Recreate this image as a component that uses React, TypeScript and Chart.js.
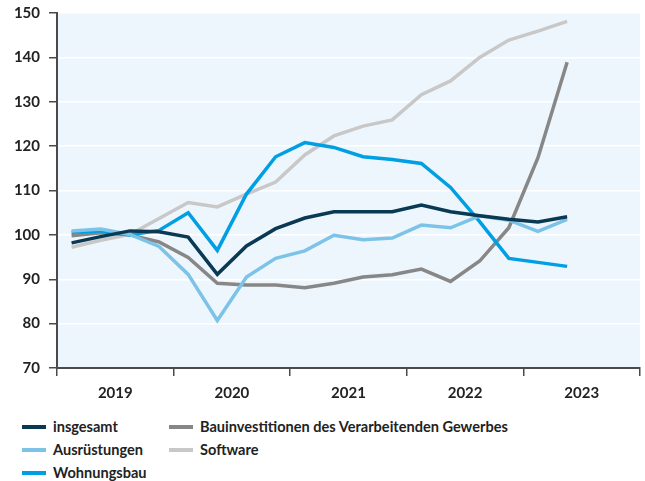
import React, { useEffect, useRef } from "react";
import { Chart, registerables } from "chart.js";

Chart.register(...registerables);

const years = ["2019", "2020", "2021", "2022", "2023"];
const quarters = [
  "2019Q1", "2019Q2", "2019Q3", "2019Q4",
  "2020Q1", "2020Q2", "2020Q3", "2020Q4",
  "2021Q1", "2021Q2", "2021Q3", "2021Q4",
  "2022Q1", "2022Q2", "2022Q3", "2022Q4",
  "2023Q1", "2023Q2",
];
const insgesamt = [98.2, 99.6, 100.9, 100.7, 99.5, 91.1, 97.5, 101.4, 103.8, 105.2, 105.2, 105.2, 106.7, 105.2, 104.3, 103.5, 102.9, 104.1];
const ausruestungen = [100.9, 101.3, 100.1, 97.4, 91.1, 80.7, 90.5, 94.7, 96.4, 99.9, 98.9, 99.3, 102.2, 101.6, 104.3, 103.3, 100.8, 103.5];
const wohnungsbau = [100.6, 100.9, 100.0, 101.0, 105.0, 96.5, 109.2, 117.6, 120.8, 119.7, 117.6, 117.0, 116.1, 110.7, 103.0, 94.7, 93.8, 92.9];
const bauinvestitionen = [99.8, 100.5, 100.0, 98.4, 94.9, 89.1, 88.7, 88.7, 88.1, 89.1, 90.5, 91.0, 92.3, 89.5, 94.1, 101.6, 117.4, 138.9];
const software = [97.2, 98.8, 100.1, 103.7, 107.3, 106.3, 109.2, 111.9, 118.0, 122.3, 124.5, 125.9, 131.6, 134.7, 140.0, 143.9, 145.9, 148.1];

const seriesNames = ["insgesamt", "Ausrüstungen", "Wohnungsbau", "Bauinvestitionen des Verarbeitenden Gewerbes", "Software"];
const seriesColors = ["#0a3a53", "#7dc3e8", "#009fe3", "#878787", "#c8c8c8"];
const seriesData = [insgesamt, ausruestungen, wohnungsbau, bauinvestitionen, software];

const FONT = "Lato, 'Noto Sans', sans-serif";
const TEXT = "#222222";

const bgPlugin = {
  id: "plotBg",
  beforeDraw(chart: any) {
    const { ctx, chartArea } = chart;
    ctx.save();
    ctx.fillStyle = "#eef6fd";
    ctx.fillRect(chartArea.left, chartArea.top, chartArea.right - chartArea.left, chartArea.bottom - chartArea.top);
    ctx.restore();
  },
};

export default function App() {
  const ref = useRef<HTMLCanvasElement | null>(null);

  useEffect(() => {
    document.body.style.margin = "0";
    const canvas = ref.current;
    if (!canvas) return;
    const datasets = seriesData.map((arr, k) => ({
      label: seriesNames[k],
      data: arr.map((v, i) => ({ x: i + 0.5, y: v })),
      borderColor: seriesColors[k],
      backgroundColor: seriesColors[k],
      borderWidth: 3.5,
      pointRadius: 0,
      tension: 0,
      fill: false,
    }));
    const chart = new Chart(canvas, {
      type: "line",
      data: { labels: quarters, datasets },
      plugins: [bgPlugin],
      options: {
        animation: false,
        responsive: false,
        layout: { padding: { left: 0, right: 5, top: 13, bottom: 0 } },
        plugins: { legend: { display: false }, tooltip: { enabled: false } },
        scales: {
          x: {
            type: "linear",
            min: 0,
            max: 20,
            afterBuildTicks(scale: any) {
              const t = [];
              for (let v = 0; v <= 20; v += 2) t.push({ value: v });
              scale.ticks = t;
            },
            afterFit(scale: any) {
              scale.height = 37;
              scale.paddingLeft = 0;
              scale.paddingRight = 0;
            },
            ticks: {
              autoSkip: false,
              maxRotation: 0,
              padding: 8,
              color: TEXT,
              font: { family: FONT, size: 15, weight: "bold" },
              callback: (v: any) => (Number(v) % 4 === 2 ? years[(Number(v) - 2) / 4] : ""),
            },
            grid: {
              drawOnChartArea: false,
              tickLength: 8,
              lineWidth: 1.5,
              color: (c: any) => (c.tick && c.tick.value % 4 === 0 ? "#4a4a4a" : "rgba(0,0,0,0)"),
            },
            border: { color: "#4a4a4a", width: 2 },
          },
          y: {
            min: 70,
            max: 150,
            afterFit(scale: any) {
              scale.width = 57;
              scale.paddingTop = 0;
              scale.paddingBottom = 0;
            },
            ticks: {
              stepSize: 10,
              padding: 9,
              color: TEXT,
              font: { family: FONT, size: 15, weight: "bold" },
            },
            grid: {
              color: "#ffffff",
              lineWidth: 1.5,
              tickColor: "#4a4a4a",
              tickLength: 8,
            },
            border: { color: "#4a4a4a", width: 2 },
          },
        },
      },
    });
    return () => chart.destroy();
  }, []);

  const legendItems = [
    { k: 0, x: 22, y: 427 },
    { k: 1, x: 22, y: 450 },
    { k: 2, x: 22, y: 473 },
    { k: 3, x: 169, y: 427 },
    { k: 4, x: 169, y: 450 },
  ];

  return (
    <div style={{ position: "relative", width: 645, height: 481, background: "#ffffff", overflow: "hidden" }}>
      <canvas ref={ref} width={645} height={405} style={{ display: "block", width: 645, height: 405 }} />
      {legendItems.map((it) => (
        <div
          key={it.k}
          style={{
            position: "absolute",
            left: it.x,
            top: it.y - 12,
            height: 24,
            display: "flex",
            alignItems: "center",
            whiteSpace: "nowrap",
            fontFamily: FONT,
            fontWeight: 700,
            fontSize: 16,
            color: TEXT,
          }}
        >
          <span style={{ display: "inline-block", width: 24, height: 4, background: seriesColors[it.k], marginRight: 7 }} />
          <span
            style={{
              display: "inline-block",
              position: "relative",
              top: -1.5,
              transform: "scaleX(0.91)",
              transformOrigin: "left center",
            }}
          >
            {seriesNames[it.k]}
          </span>
        </div>
      ))}
    </div>
  );
}
